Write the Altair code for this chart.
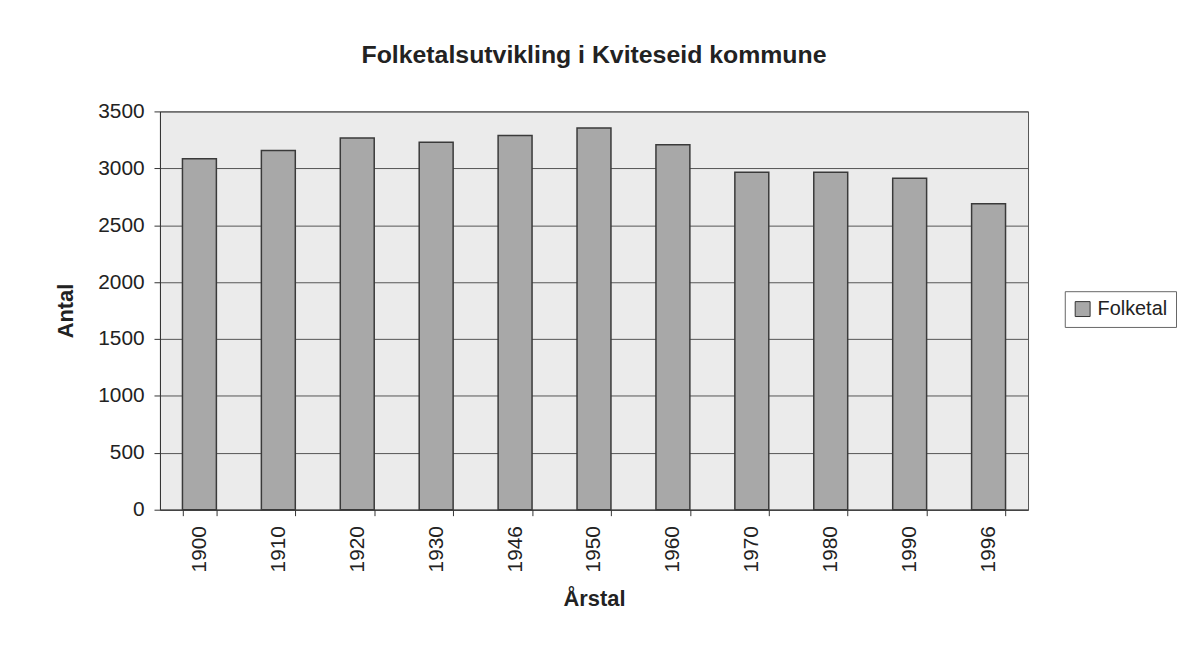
import altair as alt
import pandas as pd

years = ["1900", "1910", "1920", "1930", "1946", "1950", "1960", "1970", "1980", "1990", "1996"]
folketal = [3084, 3157, 3267, 3229, 3288, 3354, 3207, 2965, 2965, 2913, 2688]
series = ["Folketal"] * len(years)

df = pd.DataFrame({"Årstal": years, "Antal": folketal, "Serie": series})

FONT = "Liberation Sans"
common = dict(labelFont=FONT, labelFontSize=21, labelColor="#222",
              titleFont=FONT, titleFontSize=22, titleFontWeight="bold", titleColor="#222")

chart = alt.Chart(df).mark_bar(
    stroke="#3a3a3a", strokeWidth=1.5
).encode(
    x=alt.X("Årstal:N", sort=years,
            scale=alt.Scale(paddingInner=0.57, paddingOuter=0.285),
            axis=alt.Axis(title="Årstal", labelAngle=-90, labelAlign="right",
                          labelBaseline="middle", labelPadding=10, tickBand="extent",
                          tickSize=6, tickColor="#333", domainColor="#333",
                          titlePadding=17, **common)),
    y=alt.Y("Antal:Q", scale=alt.Scale(domain=[0, 3500], nice=False),
            axis=alt.Axis(title="Antal", values=[0, 500, 1000, 1500, 2000, 2500, 3000, 3500],
                          format="d", tickSize=6, tickColor="#333", domainColor="#333",
                          gridColor="#555", gridWidth=1, labelPadding=10,
                          titlePadding=20, **common)),
    color=alt.Color("Serie:N", scale=alt.Scale(range=["#a8a8a8"]),
                    legend=alt.Legend(title=None, orient="none", legendX=911, legendY=181,
                                      symbolType="square", symbolSize=225,
                                      symbolStrokeColor="#333", symbolStrokeWidth=1,
                                      labelOffset=5, strokeColor="#666", padding=8,
                                      labelFontSize=20, labelFont=FONT, labelColor="#222")),
).properties(
    width=874, height=401,
    title=alt.TitleParams("Folketalsutvikling i Kviteseid kommune", fontSize=25,
                          font=FONT, fontWeight="bold", color="#222", offset=33),
    autosize=alt.AutoSizeParams(type="none"),
    padding={"left": 153, "top": 102, "right": 151, "bottom": 120},
    background="white",
).configure_view(
    fill="#ebebeb", stroke="#555", strokeWidth=1
)

chart.save("out.html", embed_options={"renderer": "svg", "actions": False})
